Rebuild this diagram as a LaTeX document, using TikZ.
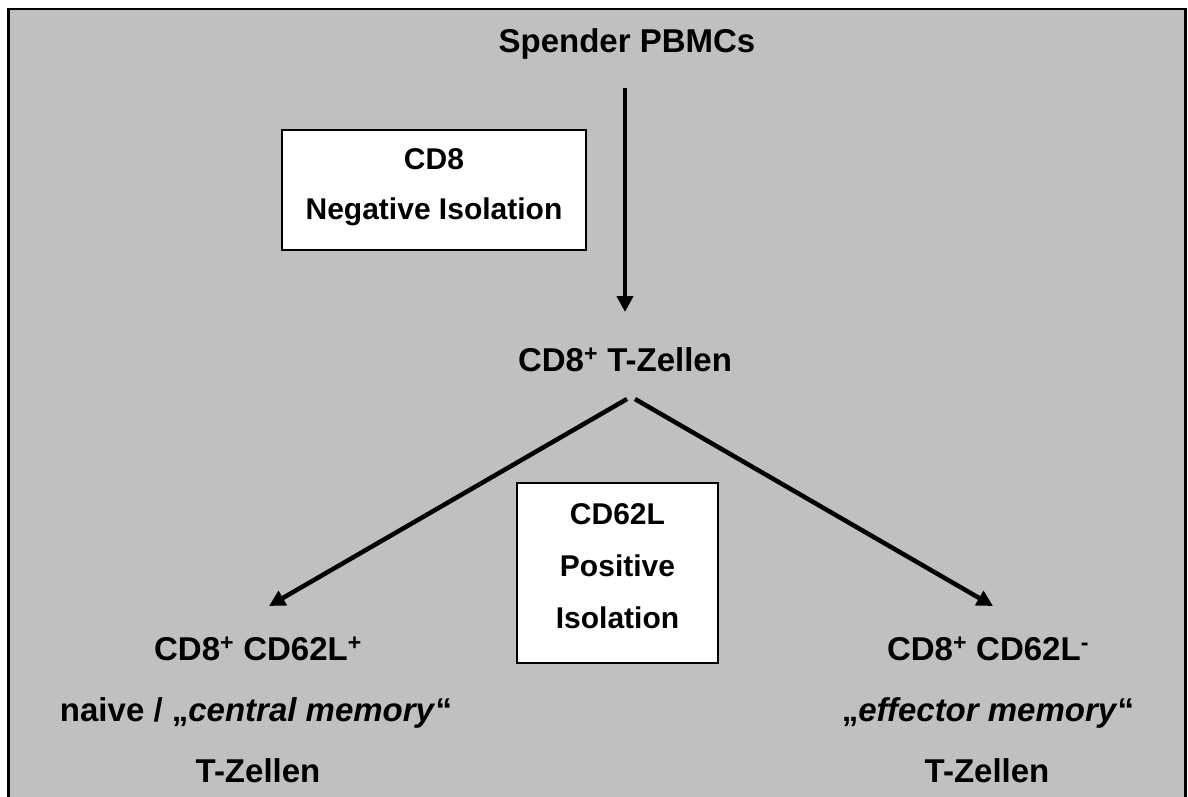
\documentclass[tikz,border=0pt]{standalone}
\usepackage{fontspec}
\setmainfont{Liberation Sans}
\usetikzlibrary{arrows.meta}
\definecolor{bg}{HTML}{C0C0C0}
\begin{document}
\begin{tikzpicture}[x=1pt,y=-1pt,
  lbl/.style={font=\fontsize{33}{40}\selectfont\bfseries, inner sep=0pt, anchor=base},
  isobox/.style={draw=black, line width=2pt, fill=white, inner sep=0pt},
  isotext/.style={align=center, font=\fontsize{30}{52}\selectfont\bfseries, inner sep=0pt},
  arr/.style={line width=4.5pt, -{Triangle[length=16pt,width=16pt]}}]
\useasboundingbox (0,0) rectangle (1188,796);
\fill[white] (0,0) rectangle (1188,796);
\begin{scope}
\clip (0,0) rectangle (1188,796);
\draw[line width=2.5pt, fill=bg] (8.5,9) rectangle (1185.5,830);
\end{scope}

\node[lbl] (spender) at (627,52) {Spender PBMCs};
\node[lbl] (cdT) at (625,371) {CD8\textsuperscript{+} T-Zellen};

\node[isobox, minimum width=304pt, minimum height=120pt] (box1) at (434,190) {};
\node[isotext] (box1text) at (434,187) {CD8\\[-2pt]Negative Isolation};
\node[isobox, minimum width=201pt, minimum height=180pt] (box2) at (617.5,573) {};
\node[isotext] (box2text) at (617.5,566) {CD62L\\Positive\\Isolation};

\node[lbl] (left1) at (258,660) {CD8\textsuperscript{+} CD62L\textsuperscript{+}};
\node[lbl] (left2) at (256,721) {naive / „\textit{central memory}“};
\node[lbl] (left3) at (258,782) {T-Zellen};

\node[lbl] (right1) at (988,660) {CD8\textsuperscript{+} CD62L\textsuperscript{-}};
\node[lbl] (right2) at (988,721) {„\textit{effector memory}“};
\node[lbl] (right3) at (987,782) {T-Zellen};

\draw[arr] ([shift={(-2pt,-36pt)}]spender.base) -- ([shift={(0pt,59pt)}]cdT.base);
\draw[arr] ([shift={(2pt,-28pt)}]cdT.base) -- ([shift={(11pt,54pt)}]left1.base);
\draw[arr] ([shift={(10pt,-28pt)}]cdT.base) -- ([shift={(5pt,54pt)}]right1.base);
\end{tikzpicture}
\end{document}
